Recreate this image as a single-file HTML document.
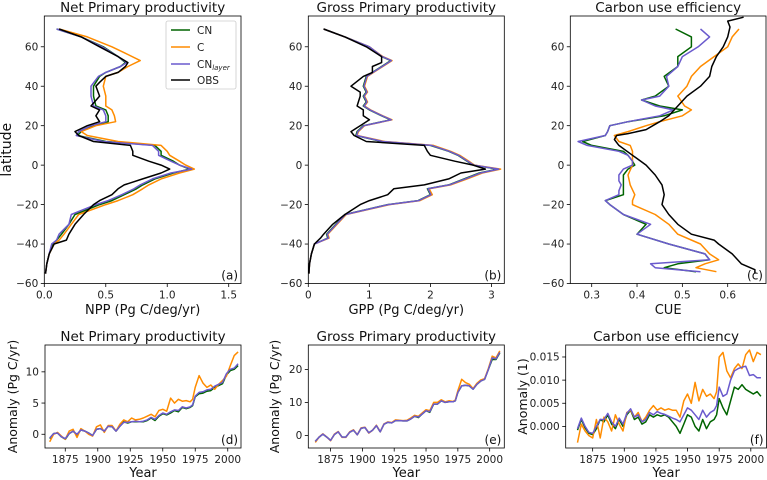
<!DOCTYPE html>
<html><head><meta charset="utf-8"><style>
html,body{margin:0;padding:0;background:#fff;}
svg{display:block;font-family:"DejaVu Sans","Liberation Sans",sans-serif;}
</style></head><body>
<svg id="fig" width="767" height="480" viewBox="0 0 767 480"></svg>
<script>
// ---------- latitude profile data ----------
const nppLatCN = [69,65,60,55,52,50,47,45,40,35,30,28,25,22,20,17,15,12,10,7,5,2,0,-2,-4,-7,-10,-12,-15,-18,-20,-25,-30,-35,-38,-40,-45,-50,-55];
const nppCN    = [0.1,0.3,0.48,0.6,0.66,0.62,0.5,0.45,0.4,0.4,0.42,0.5,0.52,0.52,0.4,0.3,0.27,0.5,0.9,0.95,0.95,1.05,1.1,1.18,1.05,0.9,0.8,0.75,0.65,0.55,0.45,0.25,0.2,0.14,0.1,0.07,0.04,0.02,0.01];
const nppCNl   = [0.1,0.3,0.47,0.6,0.67,0.62,0.5,0.44,0.38,0.38,0.4,0.48,0.5,0.5,0.38,0.28,0.26,0.48,0.88,0.93,0.93,1.03,1.1,1.2,1.03,0.88,0.78,0.73,0.63,0.52,0.42,0.22,0.2,0.12,0.1,0.06,0.04,0.02,0.01];
const nppLatC  = [69,65,60,57,53,50,47,45,40,35,30,28,25,22,20,17,15,12,10,7,5,2,0,-2,-4,-7,-10,-12,-15,-18,-20,-25,-30,-35,-38,-40,-45,-50,-55];
const nppC     = [0.12,0.35,0.55,0.65,0.78,0.68,0.6,0.5,0.48,0.5,0.5,0.55,0.57,0.58,0.42,0.3,0.35,0.6,0.95,1.0,1.02,1.1,1.15,1.22,1.1,0.95,0.85,0.8,0.72,0.6,0.5,0.28,0.22,0.16,0.12,0.08,0.04,0.02,0.01];
const nppLatO  = [69,65,60,55,52,50,47,45,42,40,35,30,28,25,22,20,17,15,12,10,7,5,2,0,-2,-4,-7,-10,-12,-15,-18,-20,-25,-30,-35,-38,-40,-45,-50,-55];
const nppOBS   = [0.12,0.3,0.45,0.6,0.68,0.66,0.6,0.5,0.45,0.42,0.45,0.38,0.45,0.42,0.45,0.35,0.25,0.28,0.4,0.7,0.72,0.72,0.85,0.95,1.02,0.95,0.8,0.65,0.6,0.55,0.45,0.4,0.32,0.25,0.2,0.18,0.08,0.04,0.02,0.01];

const gppLat   = [69,65,60,55,53,50,47,45,40,37,35,32,30,28,25,23,20,17,15,12,10,7,5,2,0,-2,-4,-7,-10,-12,-15,-18,-20,-25,-30,-35,-37,-40,-45,-50,-55];
const gppCN    = [0.25,0.6,1.0,1.2,1.35,1.2,1.05,0.95,0.9,0.95,0.9,0.95,0.9,1.0,1.2,1.35,0.9,0.8,0.78,1.2,2.0,2.3,2.45,2.6,2.7,3.1,2.8,2.55,2.3,1.95,2.0,1.8,1.3,0.6,0.45,0.3,0.32,0.1,0.05,0.02,0.01];
const gppC     = [0.25,0.6,1.0,1.22,1.37,1.22,1.07,0.97,0.92,0.97,0.92,0.97,0.92,1.02,1.22,1.37,0.92,0.82,0.8,1.25,2.05,2.33,2.48,2.63,2.72,3.15,2.85,2.6,2.33,1.98,2.03,1.83,1.33,0.62,0.47,0.32,0.34,0.1,0.05,0.02,0.01];
const gppCNl   = [0.25,0.6,1.0,1.21,1.36,1.21,1.06,0.96,0.91,0.96,0.91,0.96,0.91,1.01,1.21,1.36,0.91,0.81,0.79,1.22,2.02,2.31,2.46,2.61,2.71,3.12,2.82,2.57,2.31,1.96,2.01,1.81,1.31,0.61,0.46,0.31,0.33,0.1,0.05,0.02,0.01];
const gppLatO  = [69,65,60,55,52,50,47,45,40,37,35,30,28,25,23,20,17,15,12,10,7,5,2,0,-2,-4,-7,-10,-12,-15,-18,-20,-25,-30,-35,-37,-40,-45,-50,-55];
const gppOBS   = [0.25,0.6,0.95,1.2,1.2,1.05,1.05,0.9,0.7,0.85,0.85,0.8,0.9,0.9,1.0,0.85,0.7,0.75,0.95,1.9,1.95,2.0,2.4,2.7,2.9,2.5,2.3,1.9,1.4,1.3,1.0,0.85,0.6,0.4,0.25,0.2,0.1,0.05,0.02,0.01];

const cueLat   = [69,65,60,55,50,45,40,35,33,30,28,25,22,20,17,15,12,10,7,5,2,0,-2,-5,-8,-10,-13,-15,-18,-20,-25,-30,-35,-40,-45,-48,-50,-52,-54];
const cueCN    = [0.485,0.52,0.52,0.49,0.49,0.46,0.47,0.44,0.41,0.45,0.5,0.46,0.38,0.34,0.335,0.33,0.28,0.3,0.37,0.38,0.39,0.395,0.38,0.37,0.37,0.37,0.37,0.37,0.33,0.34,0.37,0.42,0.4,0.47,0.55,0.56,0.49,0.46,0.53];
const cueCNl   = [0.54,0.56,0.535,0.5,0.49,0.465,0.47,0.45,0.41,0.44,0.48,0.45,0.38,0.34,0.335,0.33,0.27,0.29,0.36,0.38,0.39,0.39,0.37,0.36,0.36,0.365,0.36,0.36,0.33,0.34,0.37,0.43,0.4,0.47,0.55,0.56,0.43,0.44,0.54];
const cueLatC  = [69,65,60,55,50,45,40,35,30,28,25,22,20,17,15,12,10,7,5,2,0,-5,-10,-15,-18,-20,-25,-30,-35,-40,-45,-48,-50,-52,-54];
const cueC     = [0.625,0.61,0.6,0.57,0.54,0.52,0.51,0.49,0.505,0.52,0.5,0.45,0.42,0.38,0.35,0.36,0.385,0.39,0.39,0.39,0.39,0.38,0.385,0.395,0.39,0.39,0.44,0.47,0.49,0.54,0.56,0.58,0.55,0.53,0.575];
const cueLatO  = [75,73,70,65,60,55,50,45,40,35,30,25,22,18,16,15,13,10,5,0,-5,-10,-15,-20,-25,-30,-35,-38,-40,-45,-50,-53,-55];
const cueOBS   = [0.635,0.6,0.605,0.6,0.59,0.575,0.565,0.56,0.54,0.51,0.49,0.47,0.45,0.42,0.38,0.355,0.35,0.36,0.39,0.42,0.44,0.455,0.46,0.455,0.47,0.49,0.52,0.57,0.58,0.61,0.63,0.66,0.66];

// ---------- time series data ----------
const years = [1863,1866,1869,1872,1875,1878,1881,1884,1887,1890,1893,1896,1899,1902,1905,1908,1911,1914,1917,1920,1923,1926,1929,1932,1935,1938,1941,1944,1947,1950,1953,1956,1959,1962,1965,1968,1971,1973,1975,1978,1981,1984,1987,1990,1993,1996,1999,2002,2005,2008];
const tsNppCN  = [-0.7,0.1,0.2,-0.4,-0.8,0.1,0.5,-0.1,0.7,0.5,0.2,-0.2,0.8,0.9,0.5,1.3,1.2,0.5,1.3,2.0,1.8,2.0,2.0,2.0,2.0,2.2,2.6,2.2,2.9,3.3,3.1,3.4,3.8,3.6,4.3,4.1,4.3,4.6,6.0,6.5,6.6,6.9,7.0,7.5,7.8,8.1,9.5,10.2,10.4,11.0];
const tsNppCNl = [-0.6,0.1,0.2,-0.4,-0.7,0.1,0.5,0.0,0.7,0.5,0.2,-0.2,0.8,0.9,0.5,1.3,1.2,0.5,1.3,1.9,1.9,2.0,2.1,2.0,2.1,2.3,2.7,2.4,3.0,3.4,3.2,3.6,3.9,3.8,4.4,4.2,4.4,4.7,6.1,6.7,6.8,7.1,7.2,7.7,8.0,8.3,9.7,10.4,10.6,11.3];
const tsNppC   = [-1.2,0.0,0.3,-0.3,-0.8,0.5,0.8,-0.5,0.9,0.5,0.0,-0.3,1.2,1.5,0.3,1.4,1.4,0.5,1.6,2.3,2.0,2.6,2.3,2.4,2.6,2.9,3.2,2.8,3.8,4.0,3.7,5.8,5.0,5.6,5.3,5.4,5.2,5.6,7.5,9.4,8.2,7.5,7.9,7.2,8.0,8.6,9.3,11.0,12.6,13.2];
const tsGppCN  = [-1.8,-0.5,0.4,-0.5,-1.5,0.3,1.1,-0.5,-0.5,1.0,1.6,0.2,2.2,2.4,0.8,1.6,3.0,1.1,3.4,4.0,3.8,4.5,4.5,4.4,4.4,5.0,5.8,5.4,6.5,7.5,7.0,9.5,9.5,10.5,10.0,10.2,10.2,10.5,13.0,15.0,15.2,15.0,14.0,15.5,16.5,17.0,20.0,23.0,23.0,25.0];
const tsGppCNl = [-1.8,-0.5,0.4,-0.5,-1.5,0.3,1.1,-0.5,-0.5,1.0,1.6,0.2,2.2,2.4,0.8,1.6,3.0,1.1,3.4,4.0,3.8,4.5,4.5,4.4,4.4,5.0,5.8,5.6,6.5,7.5,7.2,9.5,9.5,10.5,10.0,10.2,10.2,10.5,13.0,15.0,15.2,15.0,14.0,15.5,16.5,17.0,20.0,23.5,23.2,25.2];
const tsGppC   = [-2.1,-0.5,0.5,-0.5,-1.6,0.4,1.2,-0.6,-0.6,1.1,1.7,0.2,2.3,2.5,0.7,1.6,3.1,1.1,3.5,4.1,3.9,4.7,4.6,4.5,4.6,5.3,6.1,5.8,6.8,7.8,7.5,10.0,10.0,10.8,10.2,10.5,10.3,10.7,13.5,17.0,16.0,15.5,14.2,15.8,16.8,17.2,20.3,24.0,23.5,25.6];
const tsCueCN  = [-0.8,1.5,-0.3,-1.5,-1.8,-0.5,1.5,1.0,2.5,0.5,-0.5,1.5,0.0,2.5,3.5,1.5,2.0,0.5,1.0,2.5,2.0,2.5,2.2,2.5,2.0,1.0,0.0,-1.5,0.5,2.5,2.0,0.0,-1.0,1.5,-0.5,1.0,1.5,2.5,6.0,4.0,2.5,5.5,8.5,8.0,9.0,8.0,7.5,7.0,7.5,6.5];
const tsCueCNl = [-0.5,1.8,0.0,-1.3,-1.5,0.0,1.5,1.5,2.8,1.0,0.0,1.8,0.5,2.8,3.8,2.0,2.5,1.0,1.5,3.0,2.5,3.2,2.8,2.6,2.2,1.8,1.5,1.0,2.5,4.0,3.5,2.5,1.5,3.5,2.0,3.0,3.5,4.5,8.5,6.5,7.0,10.0,12.0,12.5,12.8,13.0,11.0,11.2,10.5,10.5];
const tsCueC   = [-3.5,0.5,-1.0,-2.0,-2.5,1.5,-2.5,2.0,1.0,-1.0,2.5,0.5,-1.0,3.0,3.5,2.0,3.0,1.0,2.0,3.5,4.5,3.5,4.0,3.5,3.8,3.5,3.5,2.0,5.5,7.0,5.0,9.5,5.5,8.0,6.5,7.0,6.0,7.5,15.0,16.0,12.0,10.5,12.5,13.5,12.5,15.5,16.5,14.0,16.0,15.5];

const latTicks = [-60,-40,-20,0,20,40,60];
const nppTicks = [0,0.5,1.0,1.5];
const gppTicks = [0,1,2,3];
const cueTicks = [0.3,0.4,0.5,0.6];
const yearTicks = [1875,1900,1925,1950,1975,2000];
const tsNppTicks = [0,5,10];
const tsGppTicks = [0,10,20];
const tsCueTicks = [0,0.005,0.010,0.015];

const COL = {CN:'#006400', C:'#ff8c00', CNl:'#6a5acd', OBS:'#000000'};
const NS = 'http://www.w3.org/2000/svg';
const svg = document.getElementById('fig');
function mk(tag, attrs, parent){const e=document.createElementNS(NS,tag);for(const k in attrs)e.setAttribute(k,attrs[k]);(parent||svg).appendChild(e);return e;}
function lin(d0,d1,r0,r1){return v=>r0+(v-d0)*(r1-r0)/(d1-d0);}

function panel(p){
  const g=mk('g',{});
  
  
  const sx=lin(p.xd[0],p.xd[1],p.x0,p.x1), sy=lin(p.yd[0],p.yd[1],p.y1,p.y0);
  const cid='clip-'+p.name;
  const cp=mk('clipPath',{id:cid},g); mk('rect',{x:p.x0,y:p.y0,width:p.x1-p.x0,height:p.y1-p.y0},cp);
  const sg=mk('g',{'clip-path':'url(#'+cid+')'},g);
  p.series.forEach(s=>{
    const d=s.x.map((v,i)=>(i?'L':'M')+sx(v).toFixed(1)+','+sy(s.y[i]).toFixed(1)).join('');
    const l=mk('path',{d:d,fill:'none',stroke:s.c,'stroke-width':1.5,'stroke-linejoin':'round'},sg);
    
    
  });
  const fr=mk('rect',{x:p.x0,y:p.y0,width:p.x1-p.x0,height:p.y1-p.y0,fill:'none',stroke:'#000','stroke-width':0.8},g);
  
  
  p.xt.forEach((t,i)=>{
    const x=sx(t); mk('line',{x1:x,x2:x,y1:p.y1,y2:p.y1+3.5,stroke:'#000','stroke-width':0.8},g);
    const tx=mk('text',{x:x,y:p.y1+15,'font-size':10.5,'text-anchor':'middle',fill:'#222'},g);
    tx.textContent=p.xl[i];
    
    
  });
  p.yt.forEach((t,i)=>{
    const y=sy(t); mk('line',{x1:p.x0-3.5,x2:p.x0,y1:y,y2:y,stroke:'#000','stroke-width':0.8},g);
    const tx=mk('text',{x:p.x0-6,y:y+3.7,'font-size':10.5,'text-anchor':'end',fill:'#222'},g);
    tx.textContent=p.yl[i];
    
    
  });
  const ti=mk('text',{x:(p.x0+p.x1)/2,y:p.y0-4,'font-size':13.5,'text-anchor':'middle',fill:'#111'},g);
  ti.textContent=p.title;
  
  
  const pl=mk('text',{x:p.x1-3,y:p.y1-4,'font-size':12,'text-anchor':'end',fill:'#111'},g);
  pl.textContent=p.tag;
  
  
  const xl=mk('text',{x:(p.x0+p.x1)/2,y:p.xly,'font-size':13,'text-anchor':'middle',fill:'#111'},g);
  xl.textContent=p.xlab;
  
  
  if(p.ylab){
    const cy=(p.y0+p.y1)/2;
    const yl=mk('text',{x:p.ylx,y:cy,'font-size':p.ylfs||12.5,'text-anchor':'middle',fill:'#111',transform:'rotate(-90 '+p.ylx+' '+cy+')'},g);
    yl.textContent=p.ylab;
    
    
  }
}
const fmt1=v=>v.toFixed(1), fmt3=v=>v.toFixed(3), fmt0=v=>String(v);
const TY0=16, TY1=283.5, LAT=[-60,75.6];
panel({name:'npp-profile',x0:44.3,x1:241,y0:TY0,y1:TY1,xd:[0,1.6],yd:LAT,xt:nppTicks,xl:nppTicks.map(fmt1),yt:latTicks,yl:latTicks.map(v=>v<0?'\u2212'+(-v):String(v)),
  title:'Net Primary productivity',tag:'(a)',xlab:'NPP (Pg C/deg/yr)',xly:314,ylab:'latitude',ylx:11,ylfs:14,
  series:[{n:'cn-line',c:COL.CN,x:nppCN,y:nppLatCN},{n:'c-line',c:COL.C,x:nppC,y:nppLatC},{n:'cnlayer-line',c:COL.CNl,x:nppCNl,y:nppLatCN},{n:'obs-line',c:COL.OBS,x:nppOBS,y:nppLatO}]});
panel({name:'gpp-profile',x0:308.3,x1:504.3,y0:TY0,y1:TY1,xd:[0,3.21],yd:LAT,xt:gppTicks,xl:gppTicks.map(fmt0),yt:latTicks,yl:latTicks.map(v=>v<0?'\u2212'+(-v):String(v)),
  title:'Gross Primary productivity',tag:'(b)',xlab:'GPP (Pg C/deg/yr)',xly:314,
  series:[{n:'cn-line',c:COL.CN,x:gppCN,y:gppLat},{n:'c-line',c:COL.C,x:gppC,y:gppLat},{n:'cnlayer-line',c:COL.CNl,x:gppCNl,y:gppLat},{n:'obs-line',c:COL.OBS,x:gppOBS,y:gppLatO}]});
panel({name:'cue-profile',x0:570.3,x1:766,y0:TY0,y1:TY1,xd:[0.2528,0.6845],yd:LAT,xt:cueTicks,xl:cueTicks.map(fmt1),yt:latTicks,yl:latTicks.map(v=>v<0?'\u2212'+(-v):String(v)),
  title:'Carbon use efficiency',tag:'(c)',xlab:'CUE',xly:314,
  series:[{n:'cn-line',c:COL.CN,x:cueCN,y:cueLat},{n:'c-line',c:COL.C,x:cueC,y:cueLatC},{n:'cnlayer-line',c:COL.CNl,x:cueCNl,y:cueLat},{n:'obs-line',c:COL.OBS,x:cueOBS,y:cueLatO}]});

const BY0=345, BY1=448;
panel({name:'npp-timeseries',x0:45,x1:241,y0:BY0,y1:BY1,xd:[1859.4,2010.2],yd:[-2.2,14.3],xt:yearTicks,xl:yearTicks.map(fmt0),yt:tsNppTicks,yl:tsNppTicks.map(fmt0),
  title:'Net Primary productivity',tag:'(d)',xlab:'Year',xly:477,ylab:'Anomaly (Pg C/yr)',ylx:17,ylfs:12.5,
  series:[{n:'cn-line',c:COL.CN,x:years,y:tsNppCN},{n:'c-line',c:COL.C,x:years,y:tsNppC},{n:'cnlayer-line',c:COL.CNl,x:years,y:tsNppCNl}]});
panel({name:'gpp-timeseries',x0:308.3,x1:504.3,y0:BY0,y1:BY1,xd:[1857.5,2011.5],yd:[-3.8,27.4],xt:yearTicks,xl:yearTicks.map(fmt0),yt:tsGppTicks,yl:tsGppTicks.map(fmt0),
  title:'Gross Primary productivity',tag:'(e)',xlab:'Year',xly:477,ylab:'Anomaly (Pg C/yr)',ylx:279,ylfs:12.5,
  series:[{n:'cn-line',c:COL.CN,x:years,y:tsGppCN},{n:'c-line',c:COL.C,x:years,y:tsGppC},{n:'cnlayer-line',c:COL.CNl,x:years,y:tsGppCNl}]});
panel({name:'cue-timeseries',x0:565.7,x1:766.5,y0:BY0,y1:BY1,xd:[1853.7,2012.4],yd:[-4.67,17.59],xt:yearTicks,xl:yearTicks.map(fmt0),yt:tsCueTicks.map(v=>v*1000),yl:tsCueTicks.map(fmt3),
  title:'Carbon use efficiency',tag:'(f)',xlab:'Year',xly:477,ylab:'Anomaly (1)',ylx:527,ylfs:12.5,
  series:[{n:'cn-line',c:COL.CN,x:years,y:tsCueCN},{n:'c-line',c:COL.C,x:years,y:tsCueC},{n:'cnlayer-line',c:COL.CNl,x:years,y:tsCueCNl}]});

// legend
const lg=mk('g',{});


mk('rect',{x:166,y:21,width:70,height:68,rx:2,fill:'#fff','fill-opacity':0.9,stroke:'#ccc','stroke-width':0.8},lg);
[['CN',COL.CN,30],['C',COL.C,47],['CN',COL.CNl,64],['OBS',COL.OBS,80]].forEach((e,i)=>{
  const ln=mk('line',{x1:171,x2:190,y1:e[2],y2:e[2],stroke:e[1],'stroke-width':1.5},lg);
  
  
  const t=mk('text',{x:197,y:e[2]+4,'font-size':10.5,fill:'#222'},lg);
  t.textContent=e[0];
  
  
  if(i===2){const s=mk('tspan',{'font-size':7,'font-style':'italic',dy:2},t);s.textContent='layer';}
});
</script>
</body></html>
